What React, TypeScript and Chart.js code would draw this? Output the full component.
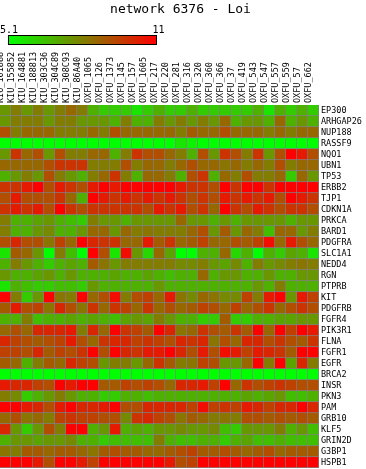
import React, { useEffect, useRef } from "react";
import { Chart, registerables } from "chart.js";

Chart.register(...registerables);

const TITLE = "network 6376 - Loi";
const SCALE_MIN = 5.1;
const SCALE_MAX = 11;

const samples = [
  "KIU_101888", "KIU_155852", "KIU_164881", "KIU_188813", "KIU_303C36", "KIU_304C89", "KIU_308C93", "KIU_86A40",
  "OXFU_1065", "OXFU_126", "OXFU_1373", "OXFU_145", "OXFU_157", "OXFU_1605", "OXFU_217", "OXFU_220", "OXFU_281",
  "OXFU_316", "OXFU_320", "OXFU_360", "OXFU_366", "OXFU_37", "OXFU_419", "OXFU_543", "OXFU_547", "OXFU_557",
  "OXFU_559", "OXFU_57", "OXFU_662",
];

const genes = [
  "EP300", "ARHGAP26", "NUP188", "RASSF9", "NQO1", "UBN1", "TP53", "ERBB2", "TJP1", "CDKN1A", "PRKCA", "BARD1",
  "PDGFRA", "SLC1A1", "NEDD4", "RGN", "PTPRB", "KIT", "PDGFRB", "FGFR4", "PIK3R1", "FLNA", "FGFR1", "EGFR",
  "BRCA2", "INSR", "PKN3", "PAM", "GRB10", "KLF5", "GRIN2D", "G3BP1", "HSPB1",
];

const EP300 = [7.5,8.1,7.5,8.1,7.5,8.1,8.6,8.1,6.9,6.3,6.3,6.3,5.7,6.3,6.9,6.3,6.3,6.9,6.3,6.3,6.3,6.3,6.3,6.9,5.7,6.9,6.3,6.9,6.3];
const ARHGAP26 = [7.5,8.1,8.1,8.1,7.5,8.1,8.1,7.5,7.5,7.5,6.9,8.1,6.9,6.9,8.1,7.5,8.1,7.5,8.1,7.5,8.6,6.9,7.5,7.5,6.9,8.6,6.9,7.5,6.9];
const NUP188 = [9.2,8.1,8.6,8.6,8.6,8.1,8.1,8.1,8.6,8.1,9.2,8.6,8.6,8.6,8.6,8.6,8.1,8.9,8.6,8.6,9.2,8.6,8.6,8.6,8.1,8.6,8.1,8.6,8.6];
const RASSF9 = [5.1,5.1,5.1,5.1,5.1,5.1,5.1,5.1,5.1,5.1,5.1,5.1,5.1,5.1,5.1,5.1,5.7,5.4,5.1,5.1,5.1,5.1,5.1,5.1,5.1,5.1,5.1,5.1,5.1];
const NQO1 = [7.5,9.8,8.6,9.2,7.5,9.2,8.1,8.1,8.6,8.6,6.9,8.1,9.8,9.2,9.2,8.6,8.1,6.9,9.2,7.5,9.8,9.2,8.1,9.8,7.5,9.2,11.0,10.4,9.2];
const UBN1 = [8.6,8.6,8.6,8.6,9.2,9.8,9.8,9.8,8.1,8.1,8.1,9.2,8.1,8.6,8.6,8.1,8.6,9.2,8.6,8.6,8.3,8.6,8.1,8.6,8.1,9.2,8.1,8.6,8.6];
const TP53 = [6.9,7.5,8.1,7.5,9.2,8.1,7.5,6.9,8.1,8.6,9.8,8.1,6.9,8.6,8.6,8.1,6.9,9.2,9.8,6.9,8.6,8.1,9.2,8.1,8.1,8.6,6.3,8.6,7.5];
const ERBB2 = [9.8,9.8,10.4,11.0,9.2,10.4,9.8,9.2,10.4,11.0,10.4,11.0,11.0,11.0,11.0,11.0,10.4,9.8,9.8,9.2,11.0,9.8,11.0,11.0,9.8,11.0,11.0,11.0,11.0];
const TJP1 = [9.2,10.4,9.2,9.2,9.2,9.8,8.6,6.9,11.0,10.4,9.8,10.4,9.8,10.4,9.8,10.4,9.8,9.2,9.8,9.2,10.4,9.8,10.4,9.8,10.4,9.2,11.0,10.4,9.8];
const CDKN1A = [9.8,10.4,9.8,10.4,9.2,11.0,9.8,9.2,9.8,9.8,9.8,9.8,9.8,9.2,10.4,9.8,10.4,9.2,9.8,8.6,11.0,9.8,9.2,10.4,9.8,9.2,9.8,9.8,9.2];
const PRKCA = [8.1,6.9,6.9,7.2,7.5,6.9,6.6,6.3,8.1,7.5,7.5,6.9,7.5,7.5,7.5,7.5,8.6,7.5,7.5,6.9,7.5,6.9,7.5,7.5,7.5,7.5,6.9,7.5,7.5];
const BARD1 = [8.1,6.9,6.9,7.5,7.8,6.9,6.9,7.5,8.6,8.6,7.5,8.6,8.1,8.3,8.1,8.1,8.1,8.6,9.2,7.5,8.9,7.5,8.6,8.1,6.6,8.6,8.6,7.5,8.1];
const PDGFRA = [9.2,10.1,9.2,9.2,8.3,9.5,8.6,11.0,10.1,9.8,9.8,8.6,8.6,10.4,8.9,9.8,8.6,8.9,9.5,8.6,8.6,9.2,8.9,9.5,10.7,8.6,10.4,9.2,8.6];
const SLC1A1 = [5.7,8.9,8.6,7.5,5.1,8.1,6.6,5.1,11.0,9.2,5.7,10.7,7.5,6.0,8.6,7.2,5.1,5.1,6.9,6.9,8.6,6.0,6.9,5.1,6.9,6.3,7.2,6.9,5.7];
const NEDD4 = [6.9,8.1,7.5,6.9,6.3,6.9,7.2,6.9,8.9,8.3,7.5,8.1,8.1,8.1,8.1,8.1,7.8,7.8,8.1,7.5,7.2,7.8,6.9,8.1,7.5,7.8,8.1,8.3,8.1];
const RGN = [7.5,6.9,6.9,7.2,7.5,6.9,7.5,6.9,6.9,6.9,7.2,6.9,6.9,7.2,6.9,6.6,6.9,6.9,8.6,6.9,7.5,7.5,6.9,6.9,7.5,6.9,6.9,7.5,7.5];
const PTPRB = [5.7,6.9,6.6,6.3,6.3,6.6,6.6,6.3,7.5,6.9,6.9,6.9,6.9,6.9,7.5,6.9,6.9,6.9,6.9,6.9,6.9,6.9,6.9,7.5,6.9,8.1,6.9,6.9,6.9];
const KIT = [11.0,8.1,6.3,7.5,11.0,8.3,8.1,11.0,8.6,9.2,10.7,8.1,9.2,9.5,8.6,10.4,8.3,7.8,8.6,8.3,7.8,7.8,9.5,8.1,10.4,11.0,7.5,10.4,9.5];
const PDGFRB = [8.9,10.4,9.2,9.5,8.3,10.1,9.2,8.3,9.8,8.6,9.8,9.5,8.6,9.8,8.6,9.2,8.6,8.9,9.5,9.2,8.6,9.5,8.6,9.2,9.8,8.6,9.2,9.8,9.2];
const FGFR4 = [6.9,6.9,8.1,6.6,6.9,6.9,7.2,6.9,7.2,6.9,6.6,7.2,7.5,7.2,8.1,7.5,6.9,6.9,6.3,6.3,8.9,6.3,6.3,6.9,6.9,7.2,7.2,7.5,7.5];
const PIK3R1 = [8.6,9.2,8.6,10.1,10.1,10.1,10.4,8.1,10.1,8.6,11.0,9.8,9.5,8.9,11.0,10.1,8.3,8.6,9.8,9.2,8.9,9.8,8.9,11.0,8.6,11.0,9.5,11.0,10.4];
const FLNA = [10.1,9.5,9.2,8.9,9.2,9.5,10.4,9.2,8.6,9.8,10.1,10.1,9.5,9.8,9.5,9.2,10.1,9.8,10.1,8.3,9.2,8.6,10.1,10.1,9.2,9.8,9.2,8.9,9.8];
const FGFR1 = [9.5,9.5,9.2,10.1,8.9,9.5,9.2,9.8,11.0,9.2,11.0,10.1,9.8,10.4,10.4,11.0,10.1,9.2,10.4,9.2,10.7,10.4,9.5,10.4,10.1,9.8,8.9,11.0,11.0];
const EGFR = [8.9,8.6,6.9,8.1,8.9,8.6,10.1,9.5,9.2,7.5,8.1,8.1,7.5,8.6,9.8,8.9,8.1,8.3,9.5,9.2,7.5,7.5,8.6,11.0,8.1,11.0,7.2,10.1,8.1];
const BRCA2 = [5.1,5.1,5.1,5.1,5.1,5.1,5.1,5.1,5.1,5.1,5.1,5.1,5.1,5.1,5.1,5.1,5.1,5.1,5.1,5.1,5.1,5.1,5.1,5.1,5.1,5.1,5.1,5.1,5.1];
const INSR = [10.4,10.1,10.1,9.5,9.2,11.0,10.4,11.0,11.0,8.9,8.9,9.5,9.2,9.5,9.2,8.6,10.1,10.1,10.4,9.5,11.0,8.6,9.8,9.2,9.5,9.8,9.5,9.2,9.2];
const PKN3 = [8.1,7.8,6.3,6.9,7.5,8.1,7.5,6.9,6.9,6.3,6.3,6.9,6.9,6.6,6.9,6.9,6.9,6.9,6.9,6.9,6.9,6.9,7.2,6.9,7.2,7.5,6.6,6.6,6.9];
const PAM = [11.0,11.0,10.4,10.1,9.2,10.4,11.0,10.1,10.1,10.4,11.0,9.2,9.2,10.1,10.1,10.1,10.1,9.5,10.7,9.5,9.8,9.5,10.4,10.1,9.5,10.1,10.1,11.0,10.1];
const GRB10 = [8.6,9.2,8.3,8.6,8.1,9.5,9.8,9.5,9.5,9.2,9.2,7.8,9.8,10.1,9.5,9.2,8.3,8.9,8.6,8.1,8.3,8.1,9.2,9.2,8.9,9.2,8.9,9.2,8.9];
const KLF5 = [10.1,7.5,6.3,7.5,9.2,8.1,11.0,11.0,6.9,7.5,10.4,6.9,7.2,6.9,7.5,7.5,7.8,7.5,7.5,7.8,6.6,6.3,7.5,7.5,7.5,8.1,6.9,7.5,6.6];
const GRIN2D = [6.9,7.5,7.5,7.2,7.5,7.5,7.8,6.9,6.9,6.3,6.6,6.6,6.6,6.6,8.1,6.9,6.6,6.6,6.9,6.9,6.3,6.9,7.2,6.6,6.6,6.9,6.6,6.6,6.6];
const G3BP1 = [8.3,8.1,8.9,8.9,8.6,8.9,8.9,8.6,8.3,8.9,9.2,8.9,8.9,8.6,8.6,8.9,9.2,9.5,8.9,8.9,9.2,8.9,8.6,8.9,9.2,8.6,8.9,8.9,8.9];
const HSPB1 = [11.0,11.0,11.0,10.4,9.2,11.0,11.0,10.4,9.5,11.0,11.0,11.0,11.0,11.0,11.0,10.4,9.2,9.5,11.0,11.0,11.0,11.0,11.0,11.0,11.0,11.0,11.0,11.0,11.0];

const matrix = [
  EP300, ARHGAP26, NUP188, RASSF9, NQO1, UBN1, TP53, ERBB2, TJP1, CDKN1A, PRKCA, BARD1, PDGFRA, SLC1A1, NEDD4,
  RGN, PTPRB, KIT, PDGFRB, FGFR4, PIK3R1, FLNA, FGFR1, EGFR, BRCA2, INSR, PKN3, PAM, GRB10, KLF5, GRIN2D,
  G3BP1, HSPB1,
];

const FONT = '"DejaVu Sans Mono", monospace';
const GRID_GRAY = "#808080";

function colorFor(v: number): string {
  const t = Math.min(1, Math.max(0, (v - SCALE_MIN) / (SCALE_MAX - SCALE_MIN)));
  return `rgb(${Math.round(255 * t)},${Math.round(255 * (1 - t))},0)`;
}

const headerPlugin = {
  id: "header",
  afterDraw(chart: any) {
    const ctx = chart.ctx as CanvasRenderingContext2D;
    ctx.save();
    ctx.fillStyle = "#000";
    ctx.textBaseline = "alphabetic";
    ctx.textAlign = "center";
    ctx.font = `13px ${FONT}`;
    ctx.fillText(TITLE, 180.5, 13);

    const g = ctx.createLinearGradient(9, 0, 156, 0);
    g.addColorStop(0, colorFor(SCALE_MIN));
    g.addColorStop(1, colorFor(SCALE_MAX));
    ctx.fillStyle = g;
    ctx.fillRect(8, 35, 149, 10);
    ctx.strokeStyle = "#000";
    ctx.lineWidth = 1;
    ctx.strokeRect(8.5, 35.5, 148, 9);

    ctx.fillStyle = "#000";
    ctx.font = `10px ${FONT}`;
    ctx.textAlign = "left";
    ctx.fillText(String(SCALE_MIN), 0, 33);
    ctx.fillText(String(SCALE_MAX), 152.5, 33);
    ctx.restore();
  },
};

export default function App() {
  const ref = useRef<HTMLCanvasElement | null>(null);

  useEffect(() => {
    if (!ref.current) return;
    const datasets = genes.map((g, i) => ({
      label: g,
      data: samples.map(() => 1),
      backgroundColor: matrix[i].map(colorFor),
      borderColor: GRID_GRAY,
      borderWidth: { top: 0, left: 0, right: 1, bottom: 1 },
      borderSkipped: false as const,
      categoryPercentage: 1,
      barPercentage: 1,
      stack: "grid",
    }));

    const chart = new Chart(ref.current, {
      type: "bar",
      data: { labels: samples, datasets },
      options: {
        responsive: false,
        animation: false,
        devicePixelRatio: 1,
        layout: { padding: { left: 0, right: 0, top: 0, bottom: 1 } },
        plugins: { legend: { display: false }, tooltip: { enabled: false }, title: { display: false } },
        scales: {
          x: {
            type: "category",
            position: "top",
            stacked: true,
            offset: true,
            grid: { display: false, drawTicks: false },
            border: { display: false },
            ticks: {
              autoSkip: false,
              minRotation: 90,
              maxRotation: 90,
              padding: 2,
              labelOffset: 5,
              color: "#000",
              font: { family: FONT, size: 8.5 },
            },
            afterFit: (s: any) => {
              s.height = 105;
              s.paddingLeft = 0;
              s.paddingRight = 0;
            },
          },
          y: {
            type: "linear",
            stacked: true,
            min: 0,
            max: genes.length,
            reverse: true,
            display: false,
          },
          rows: {
            type: "category",
            labels: genes,
            position: "right",
            offset: true,
            grid: { display: false, drawTicks: false },
            border: { display: false },
            ticks: {
              autoSkip: false,
              padding: 2,
              color: "#000",
              font: { family: FONT, size: 8.5 },
            },
            afterFit: (s: any) => {
              s.width = 47;
              s.paddingTop = 0;
              s.paddingBottom = 0;
            },
          },
        },
      } as any,
      plugins: [headerPlugin],
    });
    return () => chart.destroy();
  }, []);

  return (
    <div style={{ position: "absolute", left: 0, top: 0, width: 366, height: 469, background: "#fff" }}>
      <canvas ref={ref} width={366} height={469} style={{ display: "block" }} />
    </div>
  );
}
